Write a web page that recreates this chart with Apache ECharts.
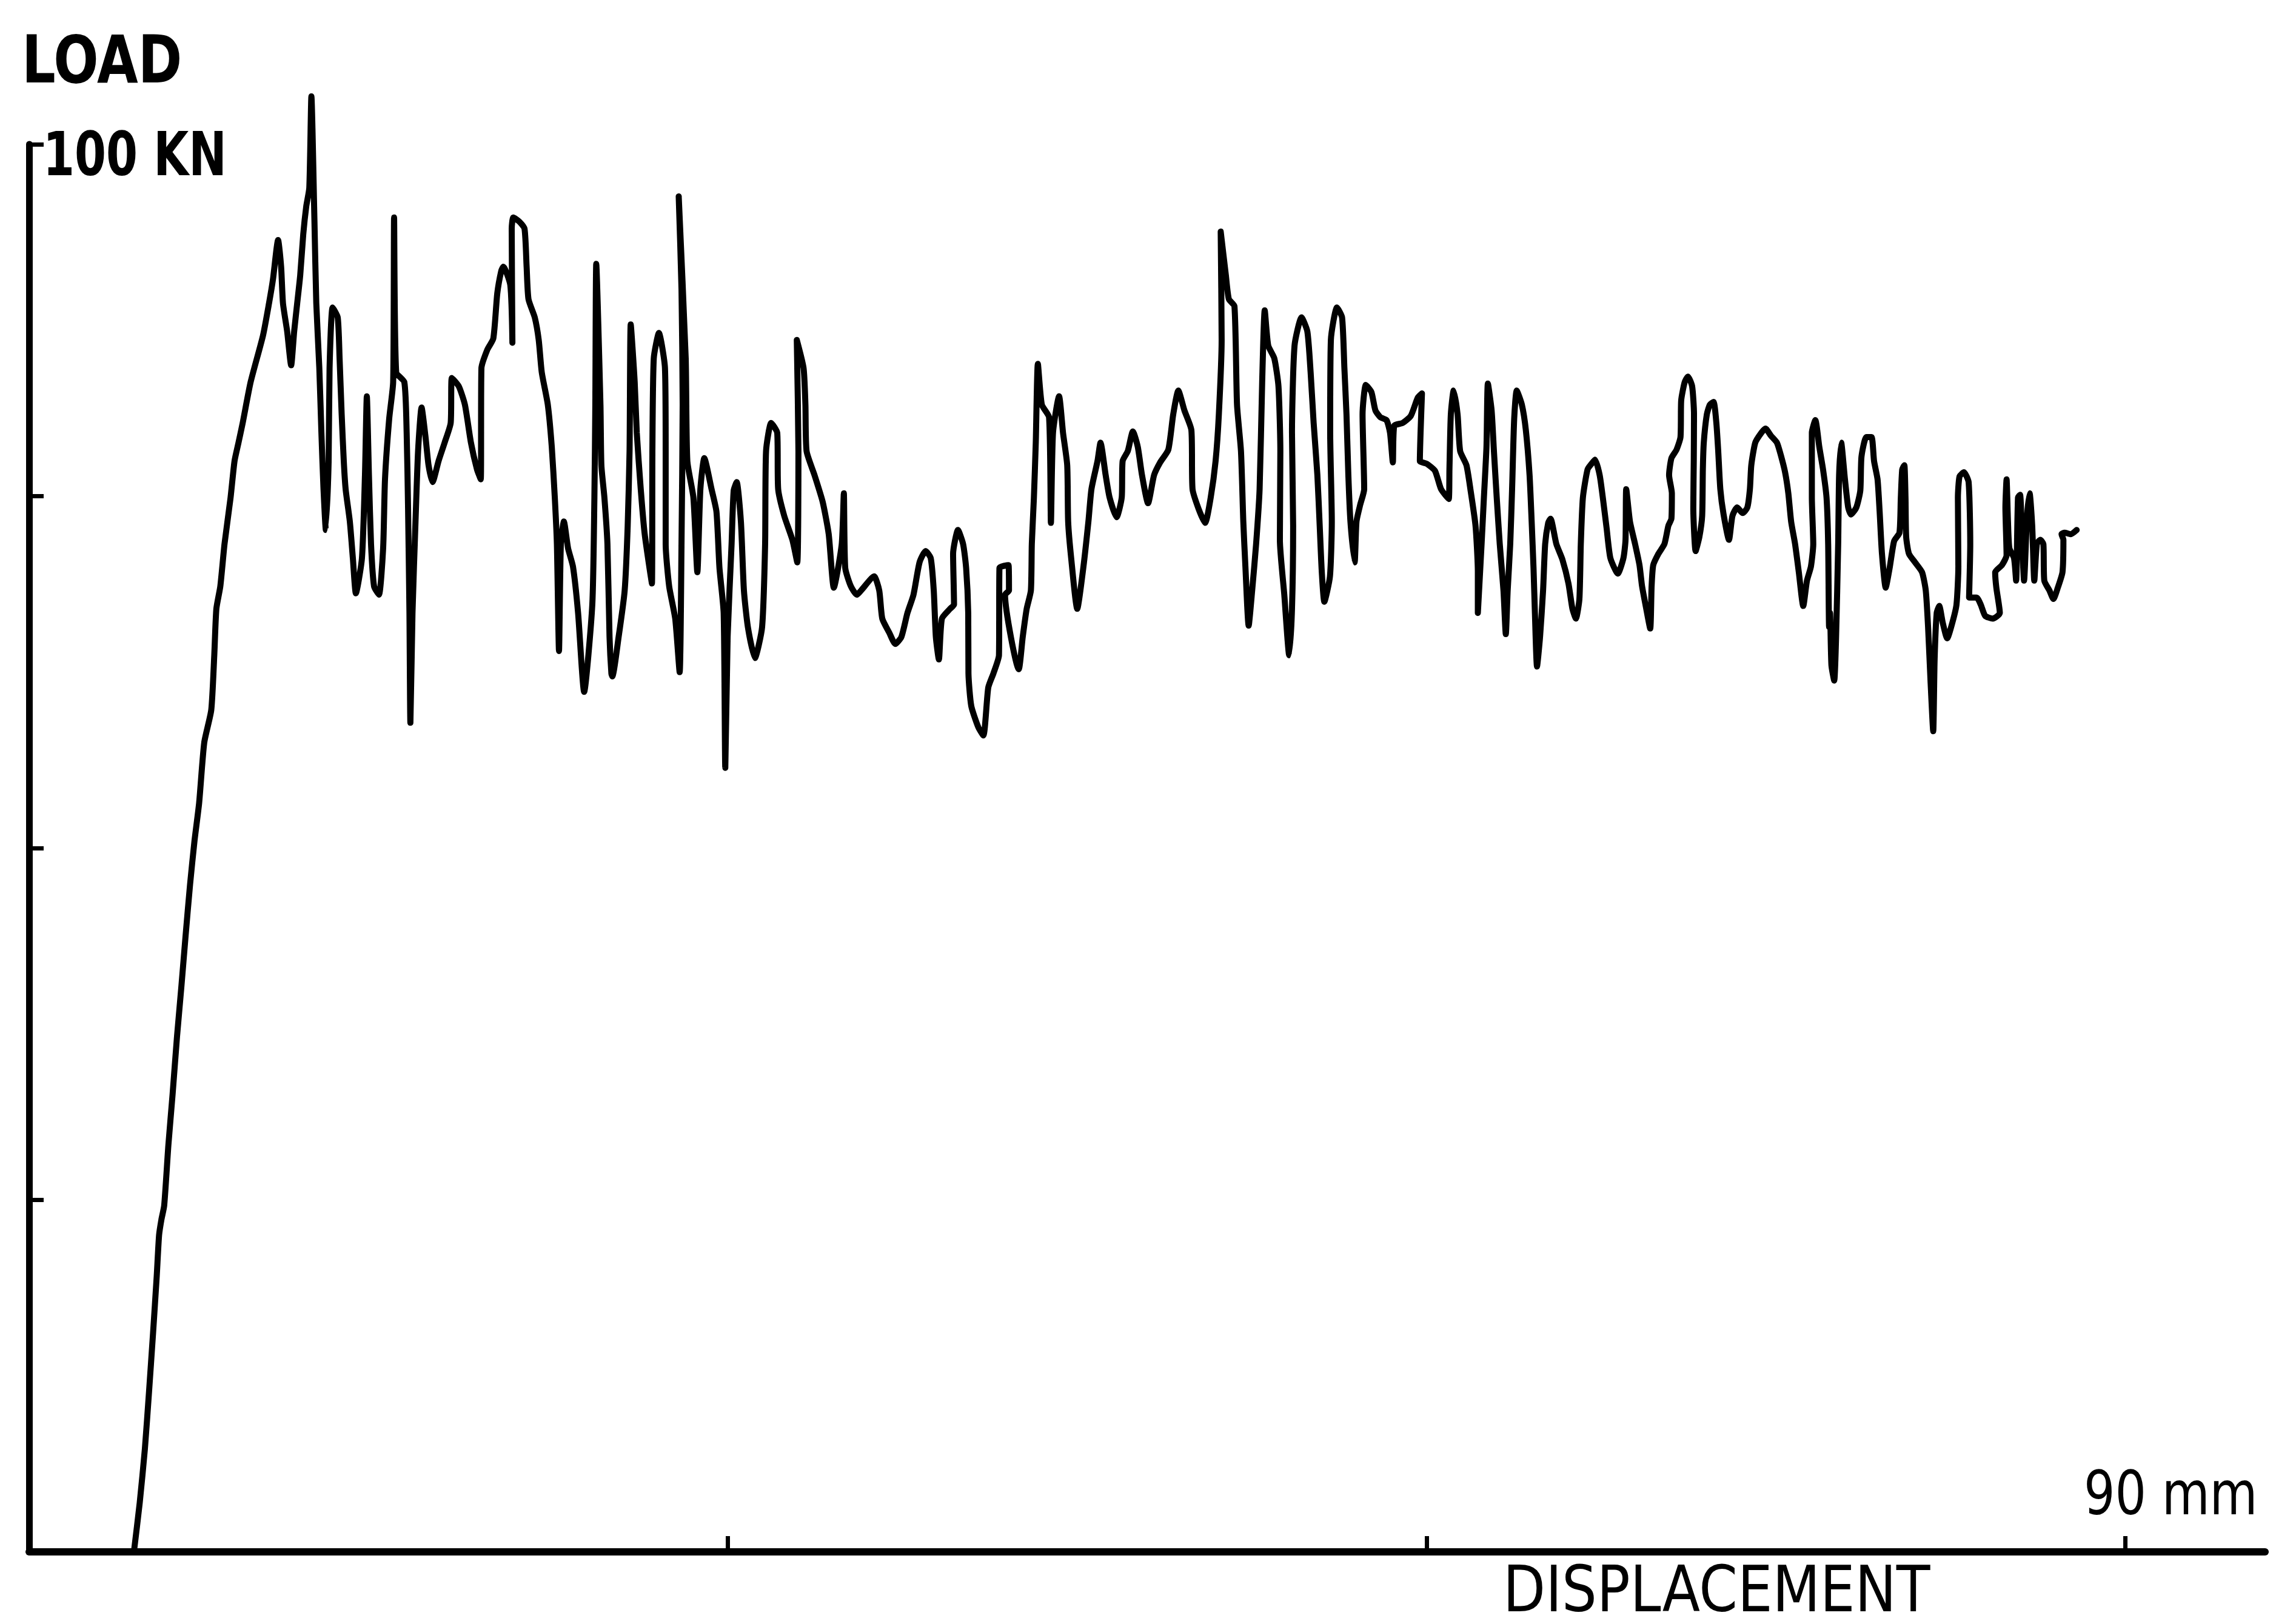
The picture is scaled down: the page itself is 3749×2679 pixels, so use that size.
<!DOCTYPE html>
<html>
<head>
<meta charset="utf-8">
<title>Load – displacement record</title>
<script src="https://cdn.jsdelivr.net/npm/echarts@6/dist/echarts.min.js"></script>
<style>
  html, body { margin: 0; padding: 0; background: #fff; }
  #chart { width: 3749px; height: 2679px; }
</style>
</head>
<body>
<div id="chart"></div>
<script>
// Each point is [displacement in mm, load in kN].

// elastic rise from the origin
const elasticRise = [
  [4.50, 0], [4.75, 3.5], [4.97, 7.3], [5.15, 11.4], [5.32, 15.5], [5.48, 19.6],
  [5.58, 22.5], [5.68, 23.6], [5.80, 24.6], [5.98, 28.9], [6.16, 32.5], [6.35, 36.6],
  [6.54, 40.2], [6.72, 43.8], [6.91, 47.4], [7.10, 50.5]
];

// first peaks, 7 – 15 mm
const loadTo15mm = [
  [7.30, 53.2], [7.52, 57.5], [7.82, 59.8], [7.95, 63.7], [8.04, 67.0], [8.21, 68.6],
  [8.39, 71.6], [8.65, 74.9], [8.82, 77.5], [8.99, 78.8], [9.17, 80.2], [9.51, 83.1],
  [10.04, 86.4], [10.30, 88.7], [10.47, 90.4], [10.69, 93.2], [10.82, 91.3], [10.90, 88.7],
  [11.08, 86.7], [11.25, 84.3], [11.38, 86.7], [11.51, 88.7], [11.64, 90.7], [11.77, 93.6],
  [11.90, 95.6], [12.03, 96.9], [12.12, 103.4], [12.25, 94.6], [12.33, 88.7], [12.46, 84.1],
  [12.55, 79.5], [12.64, 75.5], [12.74, 72.6], [12.86, 77.5], [12.90, 84.1], [13.03, 88.4],
  [13.25, 87.7], [13.33, 84.8], [13.42, 80.8], [13.51, 77.5], [13.59, 75.5], [13.77, 73.2],
  [13.90, 70.6], [14.03, 68.1], [14.29, 70.6], [14.42, 76.5], [14.50, 82.1], [14.59, 76.5],
  [14.68, 71.6]
];

// 15 – 25 mm
const loadTo25mm = [
  [14.81, 68.6], [15.02, 68.0], [15.20, 71.3], [15.28, 76.2], [15.46, 80.5], [15.63, 83.1],
  [15.67, 94.8], [15.76, 83.8], [16.11, 83.1], [16.21, 79.5], [16.27, 74.2], [16.33, 66.7],
  [16.37, 58.9], [16.46, 66.7], [16.59, 73.2], [16.70, 78.2], [16.85, 81.3], [17.02, 79.2],
  [17.15, 77.2], [17.32, 76.0], [17.58, 77.5], [17.84, 78.8], [18.10, 80.2], [18.15, 83.4],
  [18.45, 82.8], [18.71, 81.5], [18.97, 78.8], [19.23, 76.9], [19.39, 76.2], [19.42, 84.1],
  [19.67, 85.4], [19.93, 86.2], [20.10, 89.4], [20.27, 91.0], [20.36, 91.3], [20.66, 90.0],
  [20.75, 85.9], [20.72, 94.0], [20.79, 94.8], [21.05, 94.5], [21.27, 94.0], [21.36, 91.3],
  [21.44, 89.0], [21.71, 87.7], [21.88, 86.1], [22.01, 83.8], [22.27, 81.5], [22.44, 78.5],
  [22.57, 74.9], [22.66, 71.6], [22.75, 64.0], [22.83, 71.6], [22.96, 73.2], [23.14, 71.3],
  [23.35, 70.0], [23.57, 66.7], [23.83, 61.1], [24.18, 67.3], [24.27, 74.9], [24.31, 81.5],
  [24.35, 91.5], [24.53, 81.5], [24.57, 77.2], [24.70, 74.9], [24.83, 71.6], [24.92, 65.0],
  [25.00, 62.4]
];

// 25 – 36 mm
const loadTo36mm = [
  [25.04, 62.2], [25.31, 65.0], [25.57, 68.3], [25.70, 72.9], [25.78, 78.2], [25.83, 87.2],
  [26.00, 83.1], [26.09, 79.5], [26.26, 75.5], [26.43, 72.3], [26.74, 68.8], [26.76, 78.2],
  [26.82, 84.8], [27.04, 86.6], [27.30, 84.1], [27.33, 78.2], [27.33, 71.6], [27.48, 68.6],
  [27.74, 66.3], [27.93, 62.5], [28.01, 71.6], [28.06, 81.5], [28.01, 89.7], [27.89, 96.3],
  [28.19, 84.8], [28.26, 77.5], [28.52, 74.9], [28.69, 69.6], [28.82, 75.5], [28.99, 77.7],
  [29.30, 75.5], [29.51, 73.9], [29.64, 69.9], [29.82, 66.7], [29.89, 55.7], [29.99, 65.0],
  [30.16, 71.6], [30.25, 75.4], [30.38, 76.0], [30.56, 73.2], [30.69, 68.3], [30.86, 65.7],
  [31.16, 63.5], [31.47, 65.7], [31.60, 71.6], [31.64, 78.2], [31.86, 80.2], [32.12, 79.5],
  [32.16, 75.5], [32.42, 73.6], [32.77, 71.9], [32.98, 70.3], [33.03, 78.2], [32.96, 86.1],
  [33.25, 84.1], [33.33, 81.5], [33.38, 78.2], [33.72, 76.5], [34.07, 74.6], [34.33, 72.3],
  [34.55, 68.5], [34.89, 71.6], [34.98, 75.2], [35.04, 69.9], [35.28, 68.6], [35.54, 68.0],
  [35.72, 68.3]
];

// 36 – 46 mm
const loadTo46mm = [
  [36.28, 69.3], [36.50, 68.3], [36.63, 66.3], [36.93, 65.3], [37.19, 64.5], [37.45, 65.0],
  [37.71, 66.7], [37.97, 68.0], [38.23, 70.3], [38.49, 71.1], [38.71, 70.6], [38.84, 68.3],
  [38.93, 65.0], [39.06, 63.4], [39.19, 66.3], [39.54, 67.0], [39.71, 67.3], [39.67, 70.9],
  [39.88, 72.6], [40.10, 71.6], [40.23, 69.9], [40.32, 66.7], [40.33, 62.4], [40.45, 60.1],
  [40.75, 58.6], [40.97, 58.0], [41.18, 61.4], [41.40, 62.4], [41.64, 63.7], [41.66, 69.9],
  [42.05, 70.1], [42.07, 68.3], [41.90, 68.0], [42.49, 62.7], [42.66, 65.0], [42.83, 67.0],
  [43.01, 68.3], [43.05, 71.6], [43.14, 74.9], [43.22, 78.8], [43.31, 84.4], [43.48, 81.5],
  [43.79, 80.6], [43.87, 73.1], [43.96, 79.5], [44.22, 82.1], [44.39, 79.5], [44.57, 77.2],
  [44.61, 73.2], [44.74, 70.6], [45.00, 67.0], [45.26, 69.9], [45.48, 73.2], [45.61, 75.5],
  [45.87, 77.5], [46.00, 78.8]
];

// 46 – 56 mm
const loadTo56mm = [
  [46.22, 76.5], [46.39, 74.9], [46.69, 73.5], [46.91, 74.9], [46.95, 77.5], [47.17, 78.2],
  [47.39, 79.6], [47.60, 78.5], [47.78, 76.5], [48.04, 74.5], [48.30, 76.5], [48.56, 77.4],
  [48.91, 78.3], [49.12, 80.8], [49.34, 82.5], [49.60, 81.1], [49.90, 79.7], [49.95, 75.5],
  [50.21, 74.1], [50.49, 73.1], [50.73, 74.9], [50.94, 77.5], [51.08, 80.8], [51.20, 86.1],
  [51.16, 93.8], [51.38, 90.7], [51.51, 89.0], [51.75, 88.5], [51.86, 81.5], [52.03, 78.2],
  [52.13, 73.2], [52.22, 70.0], [52.36, 65.8], [52.51, 68.3], [52.68, 71.6], [52.83, 75.5],
  [52.94, 83.1], [53.05, 88.2], [53.20, 85.7], [53.46, 84.8], [53.64, 82.8], [53.72, 78.2],
  [53.70, 71.9], [53.89, 68.0], [54.10, 63.7], [54.22, 67.0], [54.27, 72.9], [54.22, 79.5],
  [54.33, 85.7], [54.63, 87.7], [54.88, 86.7], [55.02, 83.8], [55.15, 80.2], [55.31, 76.5],
  [55.41, 72.9], [55.50, 69.6], [55.61, 67.5], [55.85, 69.3], [55.93, 73.2], [55.86, 79.5],
  [55.89, 86.1], [56.15, 88.4], [56.37, 87.7]
];

// 56 – 67 mm
const loadTo67mm = [
  [56.47, 84.1], [56.56, 80.8], [56.64, 76.5], [56.73, 73.2], [56.91, 70.3], [56.99, 73.2],
  [57.15, 74.4], [57.32, 75.5], [57.25, 80.8], [57.39, 82.9], [57.63, 82.4], [57.80, 81.1],
  [58.02, 80.6], [58.28, 80.4], [58.43, 79.5], [58.55, 77.4], [58.61, 80.0], [58.97, 80.2],
  [59.32, 80.7], [59.62, 82.0], [59.80, 82.3], [59.74, 79.5], [59.71, 77.5], [60.01, 77.3],
  [60.36, 76.8], [60.62, 75.5], [60.95, 74.8], [60.98, 76.9], [61.04, 80.8], [61.16, 82.5],
  [61.33, 80.8], [61.44, 78.2], [61.71, 77.2], [61.88, 75.5], [62.10, 72.9], [62.20, 69.6],
  [62.20, 66.7], [62.36, 71.6], [62.46, 74.9], [62.57, 78.5], [62.63, 83.0], [62.79, 81.1],
  [62.89, 78.2], [63.01, 74.9], [63.14, 71.6], [63.30, 68.3], [63.40, 65.2], [63.48, 68.3],
  [63.59, 71.6], [63.67, 75.5], [63.76, 80.5], [63.87, 82.5], [64.09, 81.5], [64.26, 79.7],
  [64.42, 76.5], [64.51, 73.2], [64.59, 69.9], [64.65, 66.7], [64.74, 62.9], [64.87, 65.0],
  [65.00, 68.3], [65.09, 71.6], [65.22, 73.1], [65.32, 73.4], [65.57, 71.6], [65.83, 70.5],
  [66.09, 68.8], [66.26, 67.0], [66.41, 66.3], [66.56, 67.7], [66.62, 71.6], [66.71, 74.9],
  [66.91, 76.9]
];

// 67 – 77 mm
const loadTo77mm = [
  [67.08, 77.3], [67.23, 77.6], [67.43, 76.5], [67.58, 74.7], [67.73, 72.7], [67.89, 70.6],
  [68.21, 69.5], [68.45, 70.6], [68.54, 71.9], [68.57, 75.5], [68.73, 73.2], [68.95, 71.6],
  [69.14, 70.1], [69.25, 68.6], [69.43, 67.0], [69.60, 65.6], [69.66, 68.6], [69.73, 70.1],
  [69.95, 70.9], [70.21, 71.6], [70.38, 72.9], [70.51, 73.4], [70.53, 75.2], [70.41, 76.5],
  [70.51, 77.7], [70.73, 78.3], [70.90, 79.2], [70.93, 81.8], [71.08, 83.1], [71.22, 83.5],
  [71.40, 82.8], [71.48, 80.8], [71.47, 77.5], [71.45, 74.2], [71.55, 71.1], [71.71, 72.1],
  [71.83, 73.6], [71.86, 76.9], [71.90, 78.8], [72.03, 80.8], [72.16, 81.5], [72.32, 81.7],
  [72.44, 80.2], [72.52, 78.2], [72.61, 75.5], [72.75, 73.7], [72.98, 71.9], [73.13, 73.6],
  [73.33, 74.2], [73.57, 73.8], [73.77, 74.2], [73.88, 75.5], [73.94, 77.2], [74.11, 78.8],
  [74.37, 79.5], [74.55, 79.8], [74.78, 79.3], [75.04, 78.8], [75.21, 77.9], [75.39, 76.7],
  [75.53, 75.2], [75.65, 73.2], [75.82, 71.6], [75.98, 69.6], [76.17, 67.2], [76.33, 69.0],
  [76.50, 70.0], [76.60, 71.6], [76.54, 74.9], [76.54, 79.5], [76.69, 80.4], [76.86, 78.5],
  [77.02, 76.9], [77.17, 74.9], [77.24, 71.6], [77.28, 65.7]
];

// 77 – 88 mm, to the end of the record
const loadTo88mm = [
  [77.32, 66.7], [77.38, 63.0], [77.50, 61.9], [77.58, 65.0], [77.67, 71.6], [77.71, 76.5],
  [77.80, 78.8], [77.96, 76.2], [78.10, 74.2], [78.22, 73.7], [78.45, 74.2], [78.62, 75.4],
  [78.67, 77.8], [78.88, 79.2], [79.10, 79.2], [79.21, 77.5], [79.36, 76.2], [79.45, 73.9],
  [79.55, 70.9], [79.71, 68.5], [79.88, 69.9], [80.07, 71.8], [80.30, 72.4], [80.36, 74.9],
  [80.42, 76.9], [80.51, 77.2], [80.56, 74.9], [80.59, 72.1], [80.71, 70.9], [80.97, 70.3],
  [81.27, 69.6], [81.43, 68.3], [81.53, 65.7], [81.64, 61.7], [81.75, 58.3], [81.81, 63.4],
  [81.90, 66.7], [82.01, 67.2], [82.16, 66.0], [82.35, 64.9], [82.57, 66.0], [82.75, 67.3],
  [82.83, 70.0], [82.81, 74.9], [82.88, 76.4], [83.07, 76.7], [83.27, 76.0], [83.34, 71.6],
  [83.29, 67.8], [83.61, 67.8], [83.79, 67.3], [83.98, 66.5], [84.31, 66.3], [84.61, 66.7],
  [84.46, 68.5], [84.41, 69.6], [84.70, 70.1], [84.90, 70.8], [84.85, 74.2], [84.90, 76.2],
  [84.96, 73.2], [85.02, 71.3], [85.22, 70.6], [85.31, 69.0], [85.39, 74.9], [85.48, 75.1],
  [85.57, 71.6], [85.65, 69.0], [85.78, 73.6], [85.89, 75.2], [86.00, 72.9], [86.09, 69.0],
  [86.20, 71.6], [86.35, 71.9], [86.48, 71.6], [86.52, 69.0], [86.74, 68.3], [86.91, 67.7],
  [87.10, 68.5], [87.30, 69.6], [87.34, 71.9], [87.26, 72.3], [87.39, 72.4], [87.65, 72.3],
  [87.91, 72.6]
];

// tick positions
const xTickValues = [30, 60, 90];
const yTickValues = [25, 50, 75, 100];

// axis captions
const loadCaption = 'LOAD';
const loadScaleLabel = '100 KN';
const dispScaleLabel = '90 mm';
const dispCaption = 'DISPLACEMENT';

const record = [].concat(
  elasticRise, loadTo15mm, loadTo25mm, loadTo36mm, loadTo46mm,
  loadTo56mm, loadTo67mm, loadTo77mm, loadTo88mm
);

const ink = '#000';
const chart = echarts.init(document.getElementById('chart'), null, { renderer: 'canvas' });

function caption(text, x, y, size, weight, sx) {
  return {
    type: 'text',
    x: x,
    y: y,
    scaleX: sx,
    style: {
      text: text,
      x: 0,
      y: 0,
      fill: ink,
      fontFamily: 'DejaVu Sans Condensed',
      fontSize: size,
      fontWeight: weight,
      textAlign: 'left',
      align: 'left',
      textVerticalAlign: 'middle',
      verticalAlign: 'middle'
    }
  };
}

chart.setOption({
  animation: false,
  backgroundColor: '#fff',
  grid: { left: 48, right: 13, top: 238, bottom: 119, containLabel: false },
  xAxis: {
    type: 'value',
    min: 0,
    max: 96,
    axisLine: { show: true, onZero: false, lineStyle: { color: ink, width: 12, cap: 'round' } },
    axisTick: { show: true, inside: true, length: 26, customValues: xTickValues, lineStyle: { color: ink, width: 7 } },
    axisLabel: { show: false },
    splitLine: { show: false }
  },
  yAxis: {
    type: 'value',
    min: 0,
    max: 100,
    axisLine: { show: true, onZero: false, lineStyle: { color: ink, width: 11, cap: 'round' } },
    axisTick: { show: true, inside: true, length: 24, customValues: yTickValues, lineStyle: { color: ink, width: 7 } },
    axisLabel: { show: false },
    splitLine: { show: false }
  },
  series: [{
    type: 'line',
    data: record,
    symbol: 'none',
    showSymbol: false,
    smooth: 0.2,
    clip: false,
    lineStyle: { color: ink, width: 10, join: 'round', cap: 'round' }
  }],
  graphic: [
    caption(loadCaption, 36, 108, 108, 'bold', 0.9),
    caption(loadScaleLabel, 71, 263, 99, 'bold', 0.84),
    caption(dispScaleLabel, 3437, 2472, 100, 'normal', 0.9),
    caption(dispCaption, 2479, 2630, 106, 'normal', 0.955)
  ]
});
</script>
</body>
</html>
